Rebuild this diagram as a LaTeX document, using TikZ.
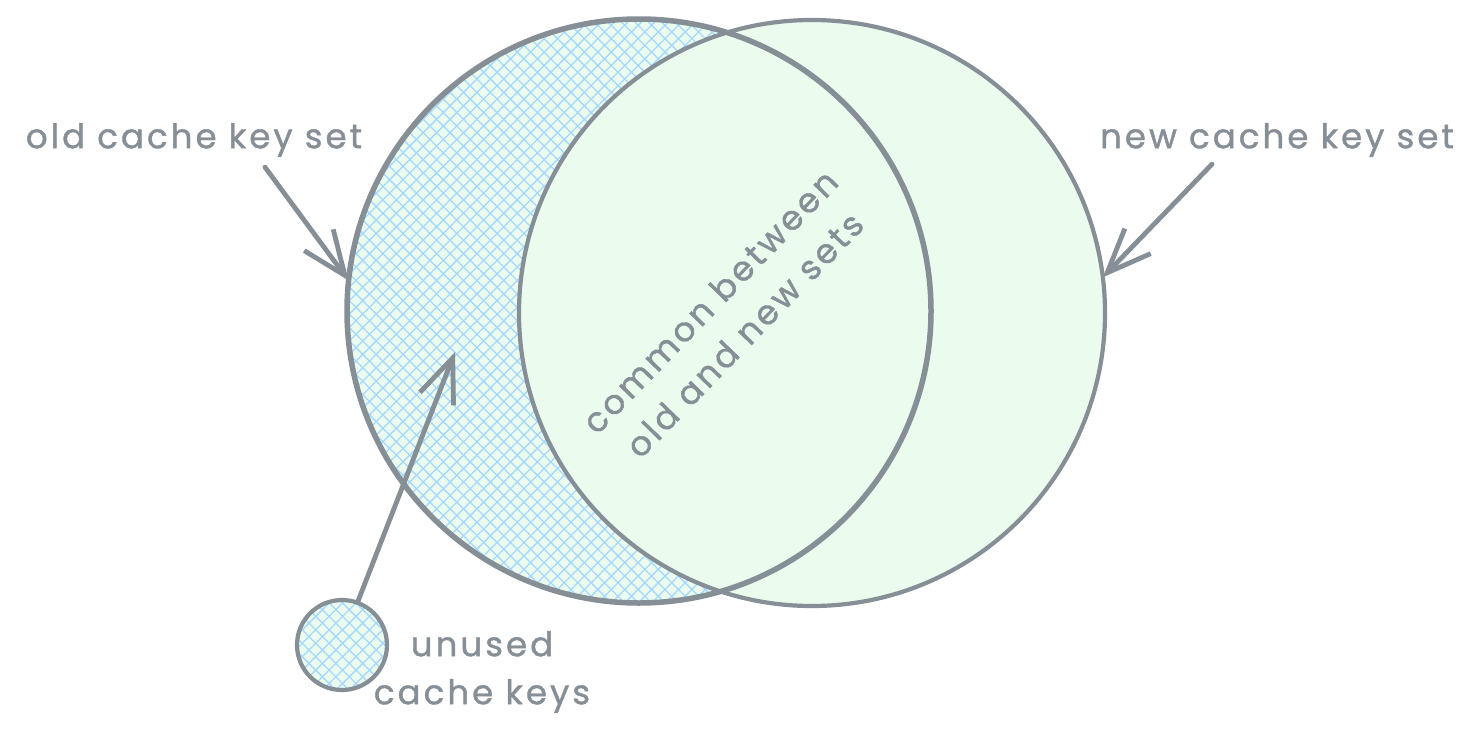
\documentclass[tikz,border=0pt]{standalone}
\usepackage{fontspec}
\setmainfont{Poppins}
\newfontfamily\sketchfont{Poppins}[FakeBold=1.2, LetterSpace=9]
\usepackage{tikz}
\usetikzlibrary{arrows.meta,patterns.meta,positioning}

\definecolor{strokegray}{HTML}{868E96}
\definecolor{setgreen}{HTML}{EBFBEE}
\definecolor{hatchblue}{HTML}{A5D8FF}

\tikzset{
  setdisc/.style={circle, fill=setgreen, inner sep=0pt, outer sep=0pt},
  setline/.style={draw=strokegray, line width=4.2pt},
  hatchone/.style={pattern={Lines[angle=45,distance=9.5pt,line width=1.3pt]}, pattern color=hatchblue},
  hatchtwo/.style={pattern={Lines[angle=-45,distance=9.5pt,line width=1.3pt]}, pattern color=hatchblue},
  pointer/.style={draw=strokegray, line width=4.8pt, line cap=round,
    -{Straight Barb[length=44pt,width=36pt]}},
  settext/.style={text=strokegray, font=\sketchfont\fontsize{34}{48}\selectfont, inner sep=0pt}
}

\begin{document}
\begin{tikzpicture}[x=1pt, y=-1pt]
            \useasboundingbox (0,0) rectangle (1477,744);

            % Sets
            \node[setdisc, minimum size=584pt] (oldset) at (639,311) {};
            \node[setdisc, minimum size=586pt] (newset) at (812,313) {};
            \node[setdisc, minimum size=90pt] (unused) at (342,645) {};

            % Hatching of the unused part
            \begin{scope}
              \clip (oldset.center) circle (292);
              \fill[hatchone, even odd rule] (oldset.center) circle (292) (newset.center) circle (293);
              \fill[hatchtwo, even odd rule] (oldset.center) circle (292) (newset.center) circle (293);
            \end{scope}
            \fill[hatchone] (unused.center) circle (45);
            \fill[hatchtwo] (unused.center) circle (45);

            % Outlines
            \draw[setline, line width=5.5pt] (oldset.center) circle (292);
            \draw[setline] (newset.center) circle (293);
            \draw[setline] (unused.center) circle (45);

            % Labels
            \node[settext] (oldlabel) at (194,140) {old cache key set};
            \node[settext] (newlabel) at (1277,140) {new cache key set};
            \node[settext, rotate=46, align=center] (common) at (727,318) {common between\\old and new sets};
            \node[settext, align=center] (unusedlabel) at (482,672) {unused\\cache keys};

            % Pointers
            \coordinate (unusedtip) at (455,352);
            \draw[pointer] ([shift={(71,10)}]oldlabel.south) -- (oldset.174);
            \draw[pointer] ([shift={(-65,7)}]newlabel.south) -- (newset.7);
            \draw[pointer] (unused.70) -- (unusedtip);

        \end{tikzpicture}
\end{document}
